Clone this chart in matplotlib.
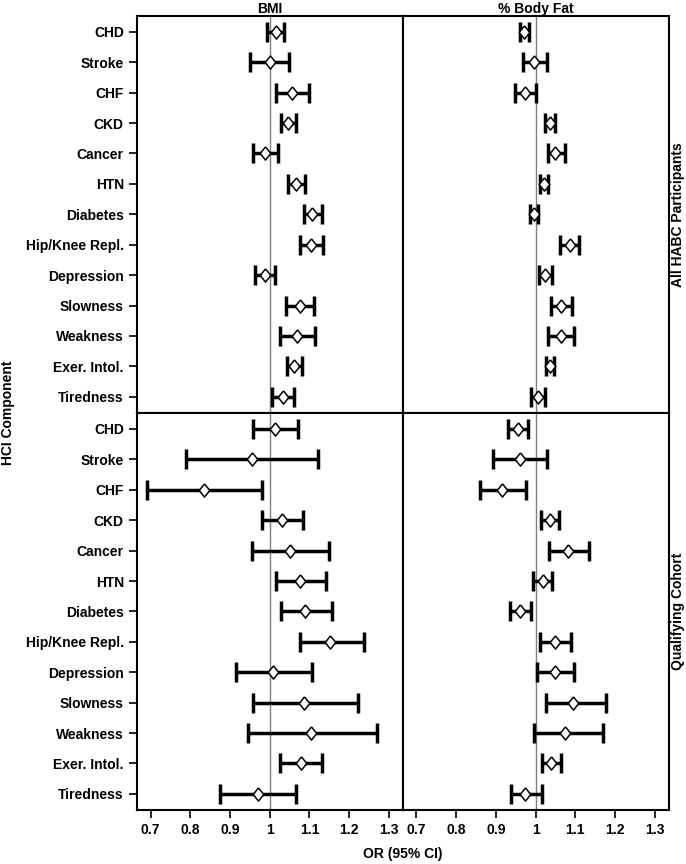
import numpy as np
import matplotlib.pyplot as plt

plt.rcParams['font.family'] = ['Liberation Sans', 'DejaVu Sans']
plt.rcParams['font.weight'] = 'bold'

components = ['CHD', 'Stroke', 'CHF', 'CKD', 'Cancer', 'HTN', 'Diabetes',
              'Hip/Knee Repl.', 'Depression', 'Slowness', 'Weakness',
              'Exer. Intol.', 'Tiredness']
columns = ['BMI', '% Body Fat']
rows = ['All HABC Participants', 'Qualifying Cohort']

# All HABC participants - BMI
bmi_all_or = [1.015, 1.000, 1.057, 1.045, 0.989, 1.067, 1.107, 1.103, 0.987, 1.075, 1.069, 1.061, 1.033]
bmi_all_lo = [0.994, 0.950, 1.017, 1.028, 0.958, 1.046, 1.087, 1.075, 0.962, 1.040, 1.025, 1.044, 1.005]
bmi_all_hi = [1.035, 1.048, 1.100, 1.065, 1.021, 1.090, 1.131, 1.134, 1.014, 1.111, 1.115, 1.081, 1.060]

# All HABC participants - % body fat
fat_all_or = [0.971, 0.997, 0.974, 1.037, 1.049, 1.021, 0.997, 1.086, 1.024, 1.063, 1.063, 1.036, 1.007]
fat_all_lo = [0.960, 0.968, 0.949, 1.024, 1.030, 1.010, 0.986, 1.062, 1.008, 1.038, 1.031, 1.025, 0.988]
fat_all_hi = [0.983, 1.029, 1.002, 1.050, 1.075, 1.032, 1.007, 1.108, 1.042, 1.092, 1.097, 1.047, 1.024]

# Qualifying cohort - BMI
bmi_q_or = [1.013, 0.955, 0.834, 1.030, 1.050, 1.075, 1.090, 1.152, 1.009, 1.085, 1.103, 1.078, 0.970]
bmi_q_lo = [0.957, 0.789, 0.690, 0.981, 0.956, 1.015, 1.028, 1.075, 0.914, 0.958, 0.946, 1.027, 0.876]
bmi_q_hi = [1.072, 1.122, 0.980, 1.084, 1.149, 1.142, 1.156, 1.237, 1.106, 1.223, 1.271, 1.132, 1.067]

# Qualifying cohort - % body fat
fat_q_or = [0.955, 0.960, 0.916, 1.036, 1.081, 1.018, 0.961, 1.048, 1.048, 1.094, 1.075, 1.038, 0.974]
fat_q_lo = [0.931, 0.892, 0.860, 1.013, 1.034, 0.994, 0.935, 1.011, 1.003, 1.027, 0.995, 1.015, 0.937]
fat_q_hi = [0.981, 1.029, 0.975, 1.060, 1.134, 1.042, 0.988, 1.090, 1.097, 1.176, 1.170, 1.063, 1.016]

panels = [[(bmi_all_or, bmi_all_lo, bmi_all_hi), (fat_all_or, fat_all_lo, fat_all_hi)],
          [(bmi_q_or, bmi_q_lo, bmi_q_hi), (fat_q_or, fat_q_lo, fat_q_hi)]]

xticks = [0.7, 0.8, 0.9, 1.0, 1.1, 1.2, 1.3]
xticklabels = ['0.7', '0.8', '0.9', '1', '1.1', '1.2', '1.3']

# slightly tall diamond
diamond = [(0, 1), (0.8, 0), (0, -1), (-0.8, 0), (0, 1)]

fig, axes = plt.subplots(2, 2, figsize=(6.86, 8.64), dpi=100)
fig.subplots_adjust(left=0.1997, right=0.9748, top=0.9818, bottom=0.0625,
                    hspace=0, wspace=0)

y = np.arange(len(components))
for i in range(2):
    for j in range(2):
        ax = axes[i, j]
        est, lo, hi = [np.array(v) for v in panels[i][j]]
        ax.axvline(1.0, color='#808080', lw=1, zorder=1)
        ax.errorbar(est, y, xerr=[est - lo, hi - est], fmt='none', ecolor='black',
                    elinewidth=2.5, capsize=7, capthick=2.5, zorder=2)
        ax.plot(est, y, linestyle='none', marker=diamond, markersize=9.5,
                markerfacecolor='white', markeredgecolor='black',
                markeredgewidth=1.1, zorder=3)
        ax.set_xlim(0.666, 1.335)
        ax.set_ylim(12.53, -0.53)
        for s in ax.spines.values():
            s.set_linewidth(1.5)
        ax.set_xticks(xticks)
        if i == 1:
            ax.set_xticklabels(xticklabels, fontsize=10, fontweight='bold')
            ax.tick_params(axis='x', length=6, width=1.2)
        else:
            ax.tick_params(axis='x', length=0, labelbottom=False)
        ax.set_yticks(y)
        if j == 0:
            ax.set_yticklabels(components, fontsize=10, fontweight='bold')
            ax.tick_params(axis='y', length=6, width=1.2)
        else:
            ax.tick_params(axis='y', length=0, labelleft=False)
        if i == 0:
            ax.set_title(columns[j], fontsize=10, fontweight='bold', pad=2)
        if j == 1:
            ax.text(1.035, 0.5, rows[i], transform=ax.transAxes, rotation=90,
                    ha='center', va='center', fontsize=10, fontweight='bold')

fig.text(0.012, 0.5225, 'HCI Component', rotation=90, ha='center', va='center',
         fontsize=10, fontweight='bold')
fig.text(0.587, 0.011, 'OR (95% CI)', ha='center', va='center',
         fontsize=10, fontweight='bold')

fig.savefig('out.png', dpi=100)
